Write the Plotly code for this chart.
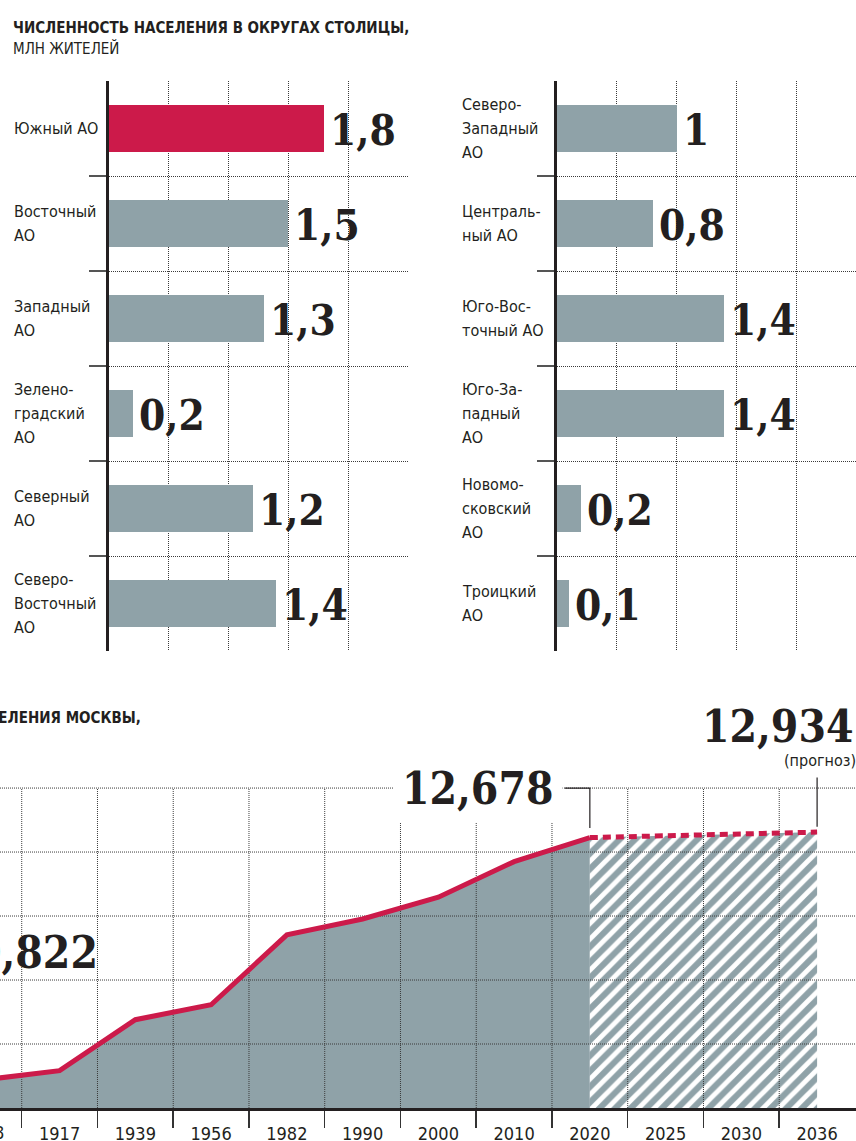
import plotly.graph_objects as go

# ---------------- data ----------------
left_districts = ["Южный АО", "Восточный<br>АО", "Западный<br>АО",
                  "Зелено-<br>градский<br>АО", "Северный<br>АО",
                  "Северо-<br>Восточный<br>АО"]
left_values = [1.8, 1.5, 1.3, 0.2, 1.2, 1.4]

right_districts = ["Северо-<br>Западный<br>АО", "Централь-<br>ный АО",
                   "Юго-Вос-<br>точный АО", "Юго-За-<br>падный<br>АО",
                   "Новомо-<br>сковский<br>АО", "Троицкий<br>АО"]
right_values = [1.0, 0.8, 1.4, 1.4, 0.2, 0.1]
highlight = "Южный АО"

years = ["1908", "1917", "1939", "1956", "1982", "1990", "2000", "2010",
         "2020", "2025", "2030", "2036"]
population = [1.32, 1.75, 4.14, 4.84, 8.12, 8.86, 9.88, 11.55, 12.678]
forecast_years = ["2020", "2025", "2030", "2036"]
forecast = [12.678, 12.76, 12.85, 12.934]
pop_gridlines = [3, 6, 9, 12, 15]
left_note = "0,822"

top_title = "ЧИСЛЕННОСТЬ НАСЕЛЕНИЯ В ОКРУГАХ СТОЛИЦЫ,"
top_subtitle = "МЛН ЖИТЕЛЕЙ"
bottom_title = "ЧИСЛЕННОСТЬ НАСЕЛЕНИЯ МОСКВЫ,"
forecast_note = "(прогноз)"

# ---------------- style ----------------
W, H = 856, 1141
RED = "#cc1a4a"
GRAY = "#8fa2a8"
INK = "#231f20"
GRID = "#3a3a3a"
SANS = "Liberation Sans Narrow, DejaVu Sans Condensed, Roboto Condensed, Arial Narrow, Roboto, sans-serif"
SERIF = "DejaVu Serif Condensed, DejaVu Serif, serif"
DOT = "1px,1px"
LABEL_SIZE = 16
LINE_STEP = 23.7


def px_x(p):
    return p / W


def px_y(p):
    return 1 - p / H


def fmt(v):
    return f"{v:g}".replace(".", ",")


def fmt3(v):
    return f"{v:.3f}".replace(".", ",")


fig = go.Figure()

# ---------------- top bar charts ----------------
panels = [
    (left_districts, left_values, "x", "y", 12),
    (right_districts, right_values, "x2", "y2", 460),
]
annotations = []
for names, vals, xa, ya, label_px in panels:
    pos = list(range(len(names)))
    colors = [RED if n == highlight else GRAY for n in names]
    fig.add_trace(go.Bar(x=vals, y=pos, orientation="h", width=0.5,
                         marker=dict(color=colors, line=dict(width=0)),
                         xaxis=xa, yaxis=ya, hoverinfo="skip",
                         showlegend=False))
    for p, n, v in zip(pos, names, vals):
        annotations.append(dict(x=v, y=p, xref=xa, yref=ya, text=fmt(v),
                                xanchor="left", yanchor="middle", xshift=4,
                                yshift=-2, showarrow=False,
                                font=dict(family=SERIF, size=42, color=INK,
                                          weight="bold")))
        lines = n.split("<br>")
        for k, line in enumerate(lines):
            annotations.append(dict(
                x=px_x(label_px), y=p, xref="paper", yref=ya, text=line,
                xanchor="left", yanchor="middle", align="left",
                yshift=((len(lines) - 1) / 2 - k) * LINE_STEP,
                showarrow=False,
                font=dict(family=SANS, size=LABEL_SIZE, color=INK)))

top_dom = [px_y(651), px_y(81)]
n_cat = len(left_districts)
bounds_top = [i + 0.5 for i in range(n_cat - 1)]
bar_xaxis = dict(range=[0, 2.5], dtick=0.5, tick0=0, showgrid=True,
                 gridcolor=GRID, gridwidth=1, griddash=DOT,
                 showticklabels=False, ticks="", zeroline=False,
                 showline=False, fixedrange=True, automargin=False)
bar_yaxis = dict(range=[n_cat - 0.5, -0.5], tickmode="array",
                 tickvals=bounds_top, showticklabels=False, ticks="outside",
                 ticklen=17, tickwidth=1.5, tickcolor="#555",
                 showgrid=True, gridcolor=GRID, gridwidth=1, griddash=DOT,
                 zeroline=False, showline=True, linewidth=3, linecolor=INK,
                 domain=top_dom, fixedrange=True, automargin=False)

# ---------------- bottom population chart ----------------
idx = list(range(len(years)))
hist_x = idx[:len(population)]
fc_x = [years.index(y) for y in forecast_years]
px_per_cat = 75.75
first_center_px = 59.6 - px_per_cat
r0 = -first_center_px / px_per_cat
r1 = r0 + W / px_per_cat
Y_SCALE = 21.33
baseline_px = 1108
y_top = 16
bottom_dom = [px_y(baseline_px), px_y(baseline_px - y_top * Y_SCALE)]

fig.add_trace(go.Scatter(x=hist_x, y=population, mode="lines", fill="tozeroy",
                         fillcolor=GRAY, line=dict(width=0, color=GRAY),
                         xaxis="x3", yaxis="y3", hoverinfo="skip",
                         showlegend=False))
fig.add_trace(go.Scatter(x=fc_x, y=forecast, mode="lines", fill="tozeroy",
                         fillcolor=GRAY, line=dict(width=0, color=GRAY),
                         fillpattern=dict(shape="/", bgcolor=GRAY,
                                          fgcolor="white", size=11,
                                          solidity=0.45, fillmode="replace"),
                         xaxis="x3", yaxis="y3", hoverinfo="skip",
                         showlegend=False))

# dotted grid drawn over the area fill
gx, gy = [], []
for g in pop_gridlines:
    gx += [r0, r1, None]
    gy += [g, g, None]
bounds_bottom = [i + 0.5 for i in idx[:-1]]
for b in bounds_bottom:
    gx += [b, b, None]
    gy += [0, max(pop_gridlines), None]
fig.add_trace(go.Scatter(x=gx, y=gy, mode="lines",
                         line=dict(color=GRID, width=1, dash=DOT),
                         xaxis="x3", yaxis="y3", hoverinfo="skip",
                         showlegend=False))

fig.add_trace(go.Scatter(x=hist_x, y=population, mode="lines",
                         line=dict(color=RED, width=5),
                         xaxis="x3", yaxis="y3", hoverinfo="skip",
                         showlegend=False))
fig.add_trace(go.Scatter(x=fc_x, y=forecast, mode="lines",
                         line=dict(color=RED, width=5, dash="8px,5px"),
                         xaxis="x3", yaxis="y3", hoverinfo="skip",
                         showlegend=False))

i2020 = years.index(forecast_years[0])
i2036 = years.index(forecast_years[-1])
top_grid = max(pop_gridlines)
shapes = [
    dict(type="path", xref="x3", yref="y3",
         path=f"M {i2020 - 25 / px_per_cat},{top_grid} L {i2020},{top_grid} "
              f"L {i2020},{population[-1] + 0.45}",
         line=dict(color=INK, width=1.2)),
    dict(type="line", xref="x3", yref="y3", x0=i2036, x1=i2036,
         y0=forecast[-1] + 0.25, y1=top_grid + 0.5,
         line=dict(color=INK, width=1.2)),
]

BIG = dict(family=SERIF, size=44, color=INK, weight="bold")
TICKFONT = dict(family=SANS, size=18, color=INK)
annotations += [
    dict(x=i2020, y=top_grid, xref="x3", yref="y3", text=fmt3(population[-1]),
         xanchor="right", yanchor="middle", xshift=-27, showarrow=False,
         bgcolor="white", borderpad=8, font=BIG),
    dict(x=px_x(856), y=px_y(726), xref="paper", yref="paper",
         text=fmt3(forecast[-1]),
         xanchor="right", yanchor="middle", showarrow=False, font=BIG),
    dict(x=px_x(858), y=px_y(760), xref="paper", yref="paper",
         text=forecast_note, xanchor="right", yanchor="middle",
         showarrow=False, font=dict(family=SANS, size=16, color=INK)),
    dict(x=px_x(100), y=px_y(952), xref="paper", yref="paper",
         text=left_note, xanchor="right", yanchor="middle",
         showarrow=False, font=BIG),
    dict(x=px_x(143), y=px_y(718), xref="paper", yref="paper",
         text=bottom_title, xanchor="right", yanchor="middle",
         showarrow=False,
         font=dict(family=SANS, size=15, color=INK, weight="bold")),
    dict(x=px_x(11), y=px_y(28), xref="paper", yref="paper",
         text=top_title, xanchor="left", yanchor="middle",
         showarrow=False,
         font=dict(family=SANS, size=15, color=INK, weight="bold")),
    dict(x=px_x(11), y=px_y(49), xref="paper", yref="paper",
         text=top_subtitle, xanchor="left", yanchor="middle",
         showarrow=False, font=dict(family=SANS, size=15, color=INK)),
    # first category label, mostly beyond the left edge
    dict(x=px_x(first_center_px), y=px_y(1132), xref="paper", yref="paper",
         text=years[0], xanchor="center", yanchor="middle",
         showarrow=False, font=TICKFONT),
]

fig.update_layout(
    width=W, height=H, autosize=False,
    margin=dict(l=0, r=0, t=0, b=0, pad=0, autoexpand=False),
    paper_bgcolor="white", plot_bgcolor="white",
    bargap=0,
    xaxis=dict(bar_xaxis, domain=[px_x(109), px_x(408)], anchor="y"),
    yaxis=dict(bar_yaxis, anchor="x"),
    xaxis2=dict(bar_xaxis, domain=[px_x(557), 1.0], anchor="y2"),
    yaxis2=dict(bar_yaxis, anchor="x2"),
    xaxis3=dict(range=[r0, r1], domain=[0, 1], anchor="y3",
                tickmode="array", tickvals=idx, ticktext=years,
                ticks="outside", ticklen=7, tickcolor="rgba(0,0,0,0)",
                tickfont=TICKFONT,
                minor=dict(tickmode="array", tickvals=bounds_bottom,
                           ticks="outside", ticklen=17, tickwidth=1.5,
                           tickcolor="#333", showgrid=False),
                showgrid=False, zeroline=False, showline=True,
                linewidth=3, linecolor=INK, fixedrange=True,
                automargin=False),
    yaxis3=dict(range=[0, y_top], domain=bottom_dom, anchor="x3",
                showgrid=False, zeroline=False, showticklabels=False,
                ticks="", showline=False, fixedrange=True, automargin=False),
    annotations=annotations,
    shapes=shapes,
    showlegend=False,
)

PAGE_FIX = (
    "var s=document.createElement('style');"
    "s.textContent='html,body{margin:0!important;padding:0!important;"
    "overflow:hidden!important;}';"
    "document.head.appendChild(s);"
)

fig.write_html("out.html", include_plotlyjs=True, full_html=True,
               config={"displayModeBar": False, "staticPlot": True},
               post_script=PAGE_FIX)
